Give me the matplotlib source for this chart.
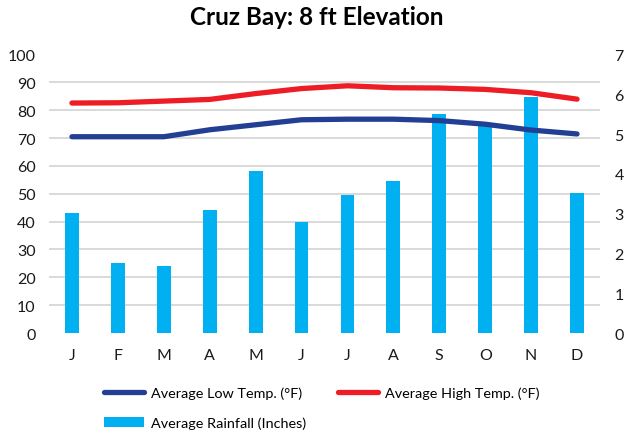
import matplotlib.pyplot as plt
import numpy as np

plt.rcParams['font.family'] = ['Lato', 'DejaVu Sans']

months = ['J', 'F', 'M', 'A', 'M', 'J', 'J', 'A', 'S', 'O', 'N', 'D']
low_temp = [70.5, 70.5, 70.5, 73.0, 74.8, 76.6, 76.8, 76.8, 76.3, 75.0, 72.9, 71.5]
high_temp = [82.6, 82.7, 83.3, 83.9, 86.0, 87.8, 88.8, 88.1, 88.0, 87.5, 86.3, 84.0]
rainfall = [3.02, 1.76, 1.69, 3.10, 4.08, 2.78, 3.48, 3.83, 5.51, 5.22, 5.93, 3.52]

x = np.arange(len(months))

fig = plt.figure(figsize=(6.25, 4.31), dpi=100)
ax = fig.add_axes([0.0784, 0.225, 0.8816, 0.646])   # rainfall, right axis
tax = ax.twinx()                                      # temperatures, left axis

bars = ax.bar(x, rainfall, width=0.3, color='#00b0f0', zorder=2,
              label='Average Rainfall (Inches)')
ax.set_ylim(0, 7)
ax.set_xlim(-0.5, 11.5)
ax.set_yticks(range(8))
ax.yaxis.tick_right()
# grid lines follow the 10 degree steps of the temperature axis
ax.set_yticks(np.arange(0, 7.01, 0.7), minor=True)
ax.grid(which='minor', axis='y', color='#d9d9d9', linewidth=1.4, zorder=0)
ax.tick_params(which='minor', length=0)
ax.tick_params(axis='y', length=0, pad=10.5, labelsize=11.5, colors='#1a1a1a')
ax.set_xticks(x)
ax.set_xticklabels(months)
ax.tick_params(axis='x', length=0, pad=11, labelsize=11.5, colors='#1a1a1a')

lo, = tax.plot(x, low_temp, color='#233f94', linewidth=3.8,
               solid_capstyle='round', label='Average Low Temp. (°F)')
hi, = tax.plot(x, high_temp, color='#ee1c25', linewidth=3.8,
               solid_capstyle='round', label='Average High Temp. (°F)')
tax.set_ylim(0, 100)
tax.set_yticks(range(0, 101, 10))
tax.yaxis.tick_left()
tax.tick_params(axis='y', length=0, pad=9.5, labelsize=11.5, colors='#1a1a1a')

for a in (ax, tax):
    for s in a.spines.values():
        s.set_visible(False)

fig.suptitle('Cruz Bay: 8 ft Elevation', x=0.506, y=0.985, fontsize=17.5,
             fontweight='bold')

fig.legend([lo, bars, hi],
           ['Average Low Temp. (°F)', 'Average Rainfall (Inches)',
            'Average High Temp. (°F)'],
           ncol=2, loc='upper left', bbox_to_anchor=(0.157, 0.115),
           frameon=False, fontsize=10.4, handlelength=2.8, handletextpad=0.45,
           columnspacing=2.2, labelspacing=1.2, borderaxespad=0)

plt.savefig('out.png', dpi=100)
